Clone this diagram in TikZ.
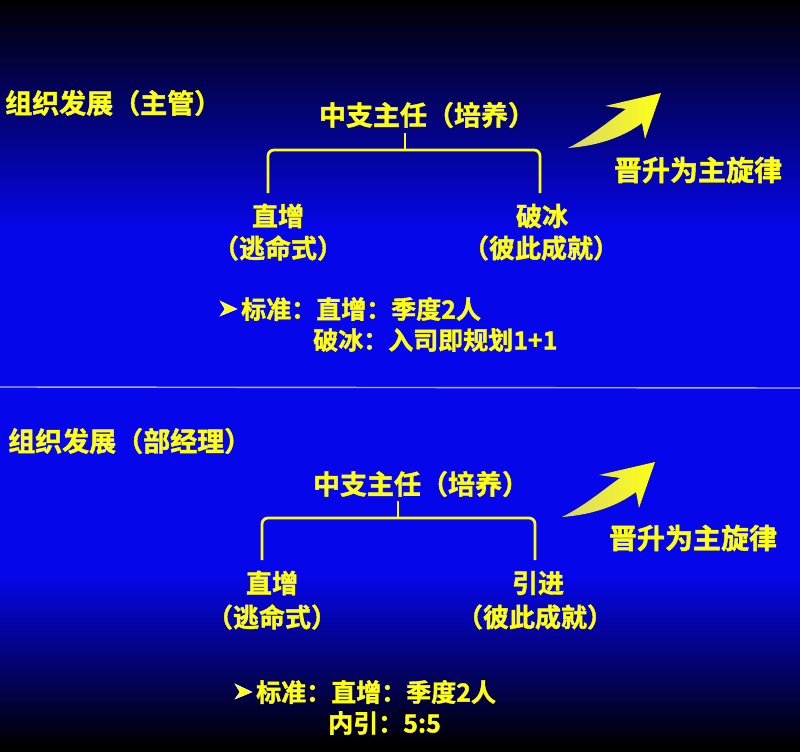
\documentclass[tikz,border=0pt]{standalone}
\usepackage{fontspec}
\setmainfont{Noto Sans CJK SC}[BoldFont={Noto Sans CJK SC Bold},BoldFeatures={FakeBold=1.6}]
\definecolor{bgblue}{RGB}{6,6,234}
\definecolor{txtyellow}{RGB}{255,255,20}
\definecolor{sepline}{RGB}{175,175,255}
\definecolor{arrowtail}{RGB}{215,215,110}
\begin{document}
\begin{tikzpicture}[x=1pt,y=-1pt,
  ttl/.style={inner sep=0pt,text=txtyellow,font=\bfseries\fontsize{27}{30}\selectfont},
  lbl/.style={inner sep=0pt,text=txtyellow,font=\bfseries\fontsize{26}{30}\selectfont},
  crit/.style={inner sep=0pt,text=txtyellow,font=\bfseries\fontsize{25}{28}\selectfont,anchor=west},
  bulfill/.style={fill=txtyellow,draw=white,line width=0.5pt,line join=miter},
  br/.style={draw=txtyellow,line width=2.8pt,rounded corners=6pt},
  swoosh/.style={left color=arrowtail,right color=txtyellow,draw=none}]
\useasboundingbox (0,0) rectangle (800,752);
% backgrounds
\fill[bgblue] (0,0) rectangle (800,752);
\fill[top color=black,bottom color=bgblue] (0,0) rectangle (800,230);
\fill[top color=bgblue,bottom color=black] (0,575) rectangle (800,745);
\fill[black] (0,745) rectangle (800,752);
\draw[sepline,line width=1.4pt] (0,387) -- (800,388);

% ---------- top panel ----------
\node[ttl,anchor=west] (t1) at (5,103) {组织发展（主管）};
\node[ttl] (m1) at (427,115) {中支主任（培养）};
\node[lbl] (a1) at (278,216) {直增};
\node[lbl] (a1b) at (278,248) {（逃命式）};
\node[lbl] (b1) at (542,216) {破冰};
\node[lbl] (b1b) at (541,248) {（彼此成就）};
\coordinate (tl1) at (268,193);
\coordinate (tr1) at (540,193);
\coordinate (tc1) at (405,150);
\coordinate (tt1) at (405,133);
\draw[br] (tl1) |- (tc1) -| (tr1);
\draw[draw=txtyellow,line width=2.8pt] (tc1) -- (tt1);
\fill[swoosh] (568,148) .. controls (592,136) and (610,120) .. (626,109)
   -- (605,106) -- (661,93) -- (645,139) -- (642,123)
   .. controls (622,138) and (596,146) .. (568,148) -- cycle;
\node[ttl,font=\bfseries\fontsize{28}{30}\selectfont] (p1) at (698,170) {晋升为主旋律};
\filldraw[bulfill] (220,301) -- (237,309) -- (220,316) -- (225,309) -- cycle;
\node[crit] (c1) at (241,309) {标准：直增：季度2人};
\node[crit] (c1b) at (313,340) {破冰：入司即规划1+1};

% ---------- bottom panel ----------
\node[ttl,anchor=west] (t2) at (8,441) {组织发展（部经理）};
\node[ttl] (m2) at (421,484) {中支主任（培养）};
\node[lbl] (a2) at (272,583) {直增};
\node[lbl] (a2b) at (272,617) {（逃命式）};
\node[lbl] (b2) at (538,583) {引进};
\node[lbl] (b2b) at (535,617) {（彼此成就）};
\coordinate (tl2) at (262,560);
\coordinate (tr2) at (535,560);
\coordinate (tc2) at (398,518);
\coordinate (tt2) at (398,501);
\draw[br] (tl2) |- (tc2) -| (tr2);
\draw[draw=txtyellow,line width=2.8pt] (tc2) -- (tt2);
\begin{scope}[shift={(-6,369)}]
\fill[swoosh] (568,148) .. controls (592,136) and (610,120) .. (626,109)
   -- (605,106) -- (661,93) -- (645,139) -- (642,123)
   .. controls (622,138) and (596,146) .. (568,148) -- cycle;
\end{scope}
\node[ttl,font=\bfseries\fontsize{28}{30}\selectfont] (p2) at (693,538) {晋升为主旋律};
\filldraw[bulfill] (235,684) -- (252,692) -- (235,699) -- (240,692) -- cycle;
\node[crit] (c2) at (256,692) {标准：直增：季度2人};
\node[crit] (c2b) at (328,723) {内引：5:5};
\end{tikzpicture}
\end{document}
